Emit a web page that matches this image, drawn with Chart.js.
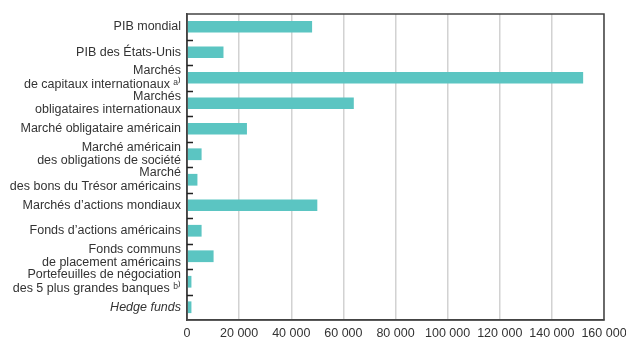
<!DOCTYPE html>
<html lang="fr">
<head>
<meta charset="utf-8">
<script src="https://cdn.jsdelivr.net/npm/chart.js@4.4.1/dist/chart.umd.min.js"></script>
<style>
  html, body { margin: 0; padding: 0; background: #fff; }
  #wrap { width: 626px; height: 343px; }
</style>
</head>
<body>
<div id="wrap"><canvas id="chartMarches"></canvas></div>
<script>
// catégories (libellés sur plusieurs lignes)
const categories = [
  ['PIB mondial'],
  ['PIB des États-Unis'],
  ['Marchés', 'de capitaux internationaux ᵃ⁾'],
  ['Marchés', 'obligataires internationaux'],
  ['Marché obligataire américain'],
  ['Marché américain', 'des obligations de société'],
  ['Marché', 'des bons du Trésor américains'],
  ['Marchés d’actions mondiaux'],
  ['Fonds d’actions américains'],
  ['Fonds communs', 'de placement américains'],
  ['Portefeuilles de négociation', 'des 5 plus grandes banques ᵇ⁾'],
  ['Hedge funds']
];

// encours
const valeurs = [48000, 14000, 152000, 64000, 23000, 5600, 4000, 50000, 5600, 10200, 1700, 1700];

const xMin = 0;
const xMax = 160000;
const xStep = 20000;

const barColor = '#5bc5c2';
const textColor = '#333333';
const frameColor = '#444444';

function formatMilliers(v) {
  return String(v).replace(/\B(?=(\d{3})+(?!\d))/g, ' ');
}

// cadre autour de la zone du graphique + petits repères entre catégories
const cadre = {
  id: 'cadre',
  afterDraw(chart) {
    const a = chart.chartArea;
    const y = chart.scales.y;
    const ctx = chart.ctx;
    ctx.save();
    ctx.strokeStyle = frameColor;
    ctx.lineWidth = 1.5;
    ctx.strokeRect(a.left, a.top, a.right - a.left, a.bottom - a.top);

    ctx.strokeStyle = '#222222';
    ctx.beginPath();
    for (let i = 0; i < categories.length - 1; i++) {
      const py = Math.round((y.getPixelForValue(i) + y.getPixelForValue(i + 1)) / 2) + 0.5;
      ctx.moveTo(a.left, py);
      ctx.lineTo(a.left + 6, py);
    }
    ctx.stroke();
    ctx.restore();
  }
};

const ctx = document.getElementById('chartMarches').getContext('2d');

const myChart = new Chart(ctx, {
  type: 'bar',
  data: {
    labels: categories,
    datasets: [{
      data: valeurs,
      backgroundColor: barColor,
      borderWidth: 0,
      barPercentage: 0.46,
      categoryPercentage: 1
    }]
  },
  options: {
    indexAxis: 'y',
    responsive: true,
    maintainAspectRatio: false,
    animation: false,
    layout: {
      padding: { top: 14, right: 22, left: 0, bottom: 0 }
    },
    plugins: {
      legend: { display: false },
      tooltip: { enabled: false }
    },
    scales: {
      x: {
        min: xMin,
        max: xMax,
        ticks: {
          stepSize: xStep,
          color: textColor,
          padding: 6,
          maxRotation: 0,
          font: { family: 'Liberation Sans', size: 12.5 },
          callback: (v) => formatMilliers(v)
        },
        grid: {
          color: '#d2d2d2',
          lineWidth: 1.5,
          drawTicks: false
        },
        border: { color: frameColor, width: 1.5 },
        afterFit: (scale) => {
          scale.height = 23;
          scale.paddingLeft = 0;
          scale.paddingRight = 0;
        }
      },
      y: {
        ticks: {
          autoSkip: false,
          color: textColor,
          padding: 6,
          font: (c) => ({
            family: 'Liberation Sans',
            size: 12.5,
            lineHeight: 1.08,
            style: c.index === categories.length - 1 ? 'italic' : 'normal'
          })
        },
        grid: {
          display: false,
          drawTicks: false
        },
        border: { color: frameColor, width: 1.5 },
        afterFit: (scale) => {
          scale.width = 187;
          scale.paddingTop = 0;
          scale.paddingBottom = 0;
        }
      }
    }
  },
  plugins: [cadre]
});
</script>
</body>
</html>
